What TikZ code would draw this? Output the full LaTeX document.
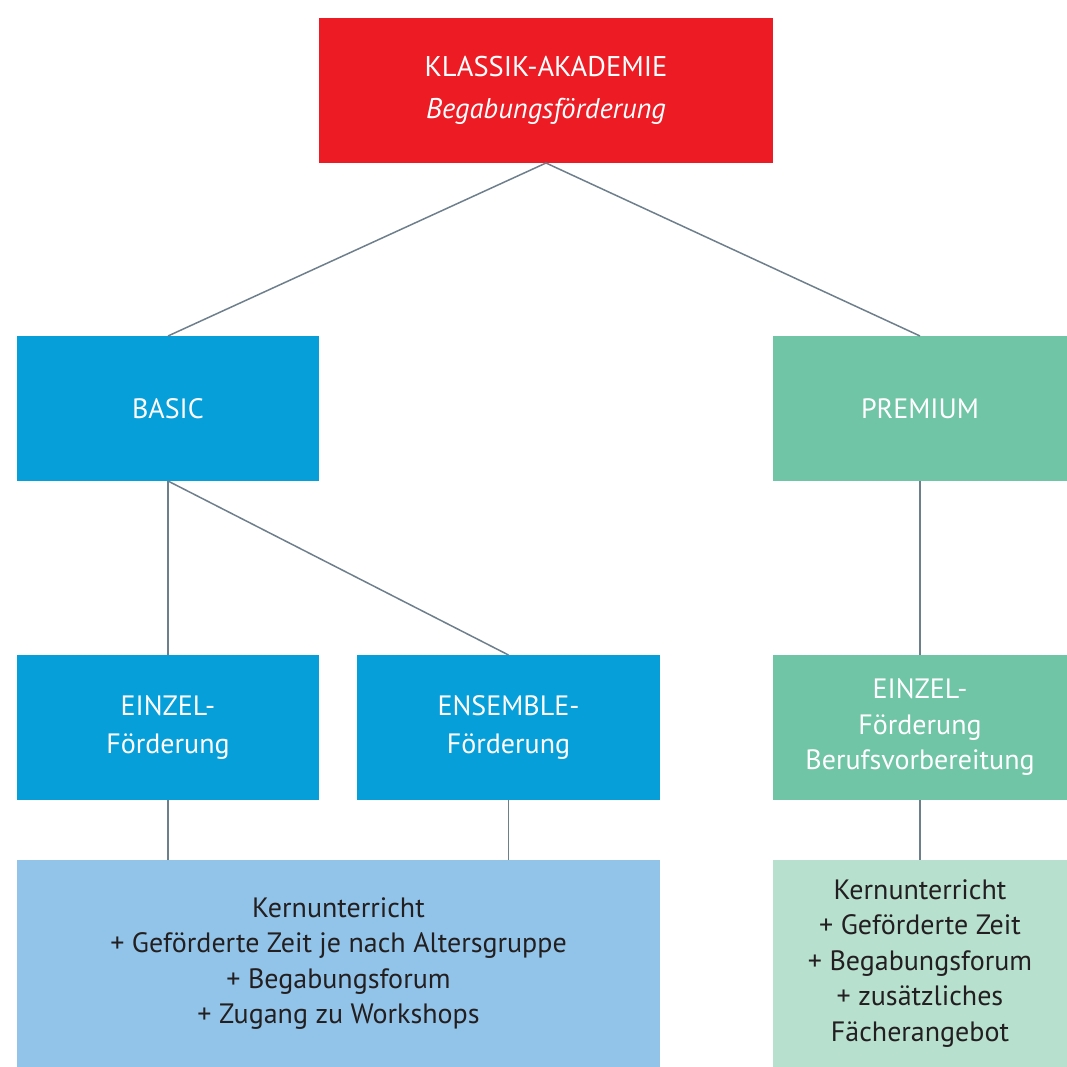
\documentclass[tikz,border=0pt]{standalone}
\usepackage{fontspec}
\setmainfont{PT Sans}
\definecolor{cred}{HTML}{ED1C24}
\definecolor{cblue}{HTML}{079FDA}
\definecolor{cgreen}{HTML}{6FC5A5}
\definecolor{clblue}{HTML}{92C4E9}
\definecolor{clgreen}{HTML}{B7E0CF}
\definecolor{cline}{HTML}{6E7F8C}
\definecolor{ctext}{HTML}{231F20}
\begin{document}
\begin{tikzpicture}[x=1pt,y=-1pt,
  box/.style={draw=none,inner sep=0pt,outer sep=0pt,align=center,
    font=\fontsize{28}{35.5}\selectfont},
  conn/.style={draw=cline,line width=1.5pt}]
\useasboundingbox (0,0) rectangle (1067,1067);
\node[box,fill=cred,text=white,minimum width=454pt,minimum height=145pt,
  font=\fontsize{28.5}{42}\selectfont] (top) at (546,90.5)
  {KLASSIK-AKADEMIE\\\itshape Begabungsförderung};
\node[box,fill=cblue,text=white,minimum width=302pt,minimum height=145pt] (basic) at (168,408.5) {BASIC};
\node[box,fill=cgreen,text=white,minimum width=294pt,minimum height=145pt] (premium) at (920,408.5) {PREMIUM};
\node[box,fill=cblue,text=white,minimum width=302pt,minimum height=145pt,
  font=\fontsize{28}{38}\selectfont] (einzel) at (168,727.5) {EINZEL-\\Förderung};
\node[box,fill=cblue,text=white,minimum width=303pt,minimum height=145pt,
  font=\fontsize{28}{38}\selectfont] (ensemble) at (508.5,727.5) {ENSEMBLE-\\Förderung};
\node[box,fill=cgreen,text=white,minimum width=294pt,minimum height=145pt] (peinzel) at (920,727.5) {EINZEL-\\Förderung\\Berufsvorbereitung};
\node[box,fill=clblue,text=ctext,minimum width=643pt,minimum height=207pt] (bbot) at (338.5,963.5)
  {Kernunterricht\\+ Geförderte Zeit je nach Altersgruppe\\+ Begabungsforum\\+ Zugang zu Workshops};
\node[box,fill=clgreen,text=ctext,minimum width=294pt,minimum height=207pt] (pbot) at (920,963.5)
  {Kernunterricht\\+ Geförderte Zeit\\+ Begabungsforum\\+ zusätzliches\\Fächerangebot};
\draw[conn] (top.south) -- (basic.north);
\draw[conn] (top.south) -- (premium.north);
\draw[conn] (basic.south) -- (einzel.north);
\draw[conn] (basic.south) -- (ensemble.north);
\draw[conn] (premium.south) -- (peinzel.north);
\draw[conn] (einzel.south) -- (einzel.south |- bbot.north);
\draw[conn] (ensemble.south) -- (ensemble.south |- bbot.north);
\draw[conn] (peinzel.south) -- (pbot.north);
\end{tikzpicture}
\end{document}
